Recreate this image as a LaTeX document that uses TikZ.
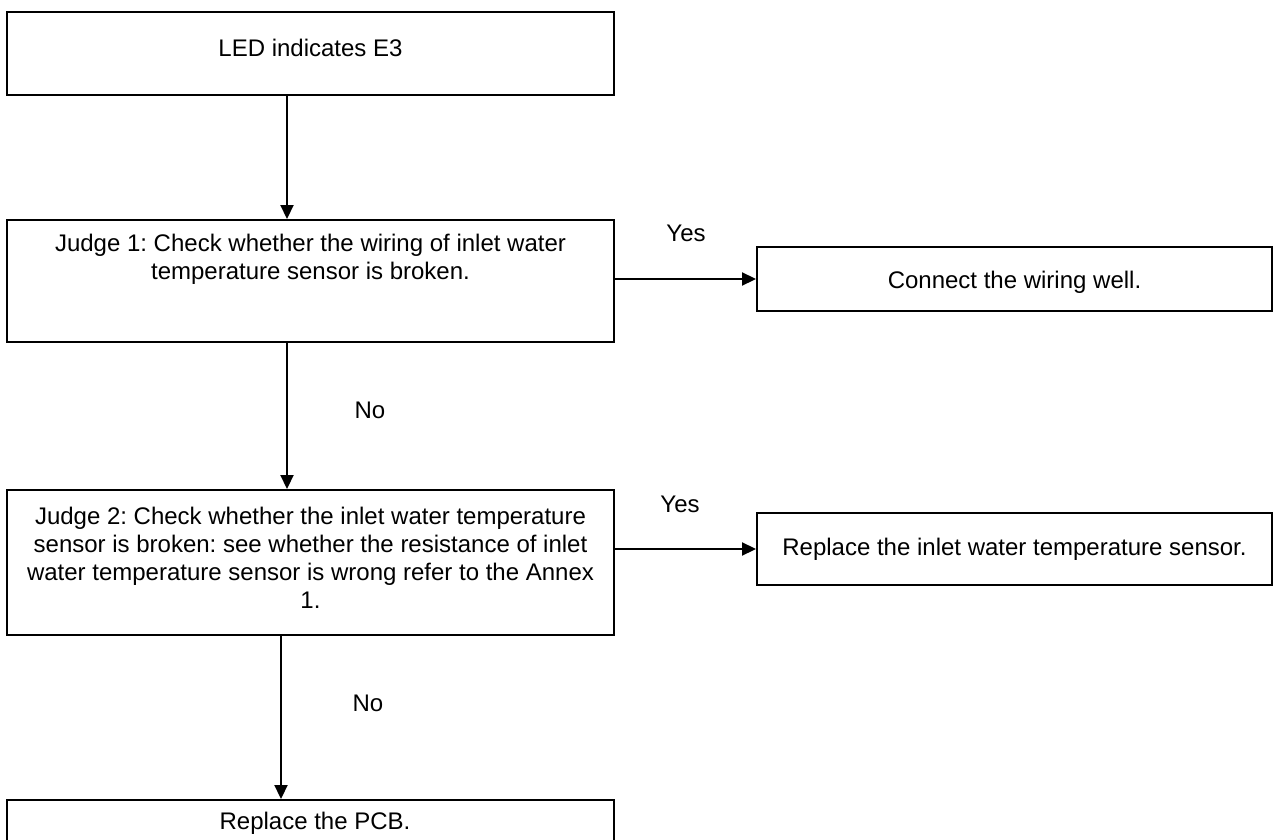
\documentclass[tikz,border=0pt]{standalone}
\usepackage{fontspec}
\setmainfont{Liberation Sans}
\usetikzlibrary{arrows.meta}
\begin{document}
\frenchspacing
\begin{tikzpicture}[x=1pt,y=-1pt,
  box/.style={draw, line width=2pt, inner sep=0pt, rectangle},
  txt/.style={font=\fontsize{24}{28}\selectfont, align=center, inner sep=0pt},
  arr/.style={line width=2.2pt, -{Triangle[length=14pt,width=13pt]}}]
\useasboundingbox (0,0) rectangle (1275,840);
\fill[white] (0,0) rectangle (1275,840);
% boxes
\node[box, minimum width=607pt, minimum height=83pt] (b1) at (310.5,53.5) {};
\node[box, minimum width=607pt, minimum height=122pt] (b2) at (310.5,281) {};
\node[box, minimum width=515pt, minimum height=64pt] (c1) at (1014.5,279) {};
\node[box, minimum width=607pt, minimum height=145pt] (b3) at (310.5,562.5) {};
\node[box, minimum width=515pt, minimum height=72pt] (c2) at (1014.5,549) {};
\node[box, minimum width=607pt, minimum height=90pt] (b4) at (310.5,845) {};
% texts
\node[txt] (t1) at (310.5,48) {LED indicates E3};
\node[txt] (t2) at (310.5,259) {Judge 1: Check whether the wiring of inlet water\\temperature sensor is broken.};
\node[txt] (t3) at (1014.5,282) {Connect the wiring well.};
\node[txt] (t4) at (310.5,558) {Judge 2: Check whether the inlet water temperature\\sensor is broken: see whether the resistance of inlet\\water temperature sensor is wrong refer to the Annex\\1.};
\node[txt] (t5) at (1014.5,549) {Replace the inlet water temperature sensor.};
\node[txt] (t6) at (315,823) {Replace the PCB.};
% labels
\node[txt] (y1) at (686,233) {Yes};
\node[txt] (n1) at (370,410) {No};
\node[txt] (y2) at (680,504) {Yes};
\node[txt] (n2) at (368,703) {No};
% connector x positions
\coordinate (xa) at (287,0);
\coordinate (xb) at (281,0);
% connectors
\draw[arr] (b1.south -| xa) -- (b2.north -| xa);
\draw[arr] (b2.south -| xa) -- (b3.north -| xa);
\draw[arr] (b3.south -| xb) -- (b4.north -| xb);
\draw[arr] (b2.east |- c1) -- (c1.west);
\draw[arr] (b3.east |- c2) -- (c2.west);
\end{tikzpicture}
\end{document}
